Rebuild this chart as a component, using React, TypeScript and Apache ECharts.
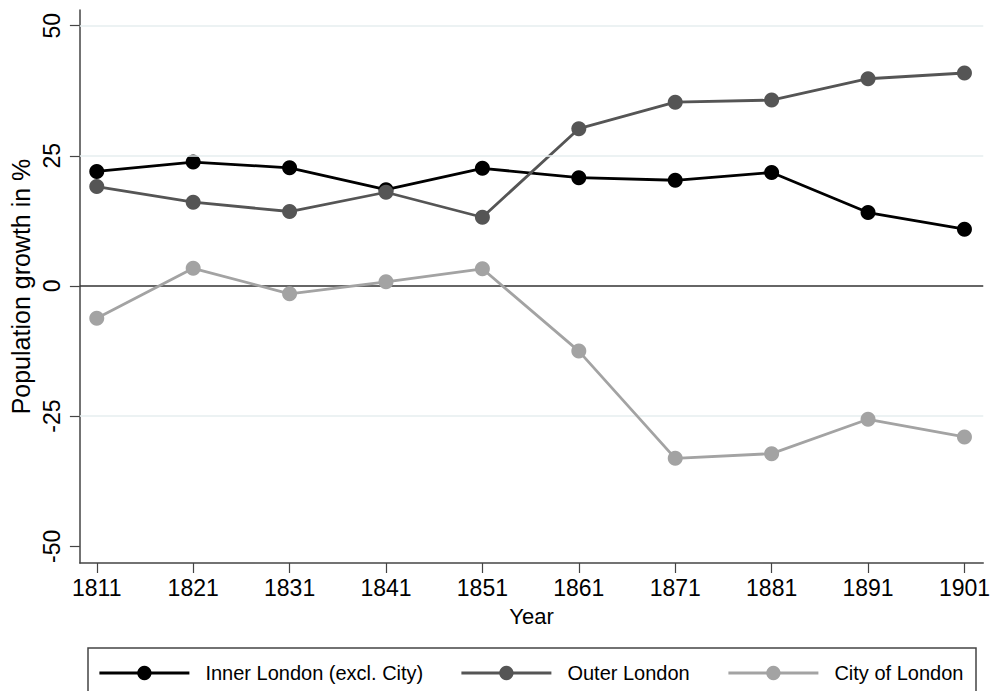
import React, { useEffect, useRef } from "react";
import * as echarts from "echarts";

const years = [1811, 1821, 1831, 1841, 1851, 1861, 1871, 1881, 1891, 1901];
const innerLondon = [22.0, 23.8, 22.7, 18.5, 22.6, 20.8, 20.3, 21.8, 14.1, 10.9];
const outerLondon = [19.1, 16.1, 14.3, 18.0, 13.2, 30.2, 35.3, 35.7, 39.8, 40.9];
const cityOfLondon = [-6.2, 3.4, -1.5, 0.8, 3.3, -12.5, -33.1, -32.2, -25.6, -29.0];
const yTicks = [-50, -25, 0, 25, 50];
const gridValues = [50, 25, -25];
const seriesNames = ["Inner London (excl. City)", "Outer London", "City of London"];
const seriesColors = ["#000000", "#555555", "#a3a3a3"];

const FONT = "Liberation Sans, Arial, Helvetica, sans-serif";

export default function App() {
  const ref = useRef<HTMLDivElement>(null);
  useEffect(() => {
    if (!ref.current) return;
    const chart = echarts.init(ref.current, null, { renderer: "svg" });
    const valuesList = [innerLondon, outerLondon, cityOfLondon];
    const lineSeries = valuesList.map((vals, i) => ({
      name: seriesNames[i],
      type: "line",
      data: years.map((y, j) => [y, vals[j]]),
      symbol: "circle",
      symbolSize: 15,
      showSymbol: true,
      z: 3 + i,
      lineStyle: { color: seriesColors[i], width: 2.8 },
      itemStyle: { color: seriesColors[i] },
      emphasis: { disabled: true },
    }));
    const legendLefts = [93, 455, 722];
    chart.setOption({
      animation: false,
      backgroundColor: "#ffffff",
      textStyle: { fontFamily: FONT },
      grid: { left: 78, right: 9, top: 10, bottom: 128, containLabel: false },
      xAxis: {
        type: "value",
        min: 1809.25,
        max: 1902.95,
        name: "Year",
        nameLocation: "middle",
        nameGap: 42,
        nameTextStyle: { fontSize: 22, color: "#000", fontFamily: FONT },
        axisLine: { show: true, onZero: false, lineStyle: { color: "#444", width: 1.5 } },
        axisTick: { show: true, length: 10, customValues: years, lineStyle: { color: "#444", width: 1.2 } },
        axisLabel: {
          customValues: years,
          formatter: (v: number) => String(Math.round(v)),
          fontSize: 23,
          color: "#000",
          margin: 13,
          fontFamily: FONT,
        },
        splitLine: { show: false },
      },
      yAxis: {
        type: "value",
        min: -53.2,
        max: 53.0,
        name: "Population growth in %",
        nameLocation: "middle",
        nameGap: 38,
        nameRotate: 90,
        nameTextStyle: { fontSize: 25, color: "#000", fontFamily: FONT },
        axisLine: { show: true, onZero: false, lineStyle: { color: "#444", width: 1.5 } },
        axisTick: { show: true, length: 10, customValues: yTicks, lineStyle: { color: "#444", width: 1.2 } },
        axisLabel: { customValues: yTicks, rotate: 90, fontSize: 23, color: "#000", margin: 16, fontFamily: FONT },
        splitLine: { show: false },
      },
      legend: legendLefts.map((l, i) => ({
        show: true,
        data: [seriesNames[i]],
        left: l,
        top: 658,
        itemWidth: 90,
        itemHeight: 18,
        lineStyle: { width: 2.8 },
        textStyle: { fontSize: 20, color: "#000", fontFamily: FONT, padding: [0, 0, 0, 11] },
        selectedMode: false,
      })),
      graphic: [
        {
          type: "rect",
          shape: { x: 88, y: 648, width: 888, height: 60 },
          style: { fill: "none", stroke: "#444", lineWidth: 1.5 },
          silent: true,
        },
      ],
      series: [
        {
          type: "line",
          data: [],
          z: 1,
          silent: true,
          markLine: {
            silent: true,
            symbol: "none",
            label: { show: false },
            animation: false,
            data: [
              ...gridValues.map((v) => ({ yAxis: v, lineStyle: { color: "#e6eeef", width: 1.5, type: "solid" } })),
              { yAxis: 0, lineStyle: { color: "#333", width: 1.5, type: "solid" } },
            ],
          },
        },
        ...lineSeries,
      ],
    });
    return () => chart.dispose();
  }, []);
  return <div ref={ref} style={{ width: 993, height: 691, position: "absolute", left: 0, top: 0 }} />;
}
